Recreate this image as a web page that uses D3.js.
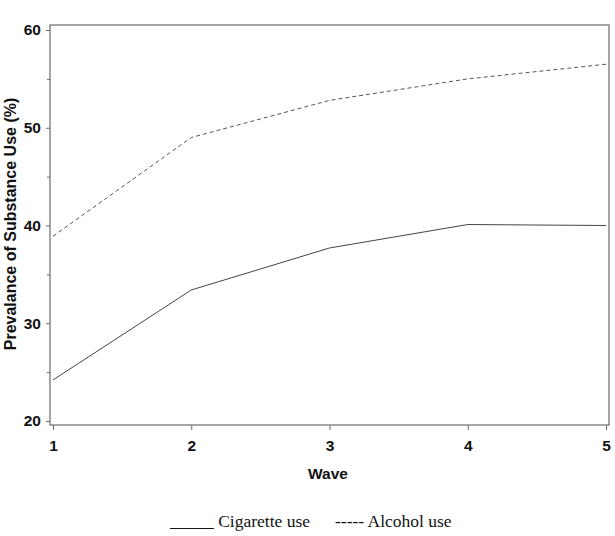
<!DOCTYPE html>
<html>
<head>
<meta charset="utf-8">
<script src="https://d3js.org/d3.v7.min.js"></script>
<style>
  body { margin: 0; background: #fff; }
</style>
</head>
<body>
<div id="chart"></div>
<script>
// data
var waves = [1, 2, 3, 4, 5];
var cigarette = [24.2, 33.4, 37.7, 40.1, 40.0];
var alcohol = [38.9, 49.0, 52.8, 55.0, 56.5];
var yTicks = [20, 30, 40, 50, 60];
var yMinor = [25, 35, 45, 55];

var width = 615, height = 536;
var svg = d3.select("#chart").append("svg")
  .attr("width", width)
  .attr("height", height);

// plot frame
var frame = {left: 50, top: 25, right: 609, bottom: 425};

var x = d3.scaleLinear().domain([1, 5]).range([53, 606]);
var y = d3.scaleLinear().domain([20, 60]).range([421, 30]);

svg.append("rect")
  .attr("x", frame.left).attr("y", frame.top)
  .attr("width", frame.right - frame.left)
  .attr("height", frame.bottom - frame.top)
  .attr("fill", "none")
  .attr("stroke", "#6b6b6b")
  .attr("stroke-width", 1.2);

// y axis
var yAxis = svg.append("g")
  .attr("transform", "translate(" + frame.left + ",0)")
  .call(d3.axisLeft(y).tickValues(yTicks).tickSize(4).tickPadding(5));
yAxis.select(".domain").remove();
yAxis.selectAll("line").attr("stroke", "#6b6b6b");
yAxis.selectAll("text")
  .attr("font-family", "Liberation Sans, Arial, sans-serif")
  .attr("font-weight", "bold")
  .attr("font-size", 15.5)
  .attr("fill", "#111");

var yMinorAxis = svg.append("g")
  .attr("transform", "translate(" + frame.left + ",0)")
  .call(d3.axisLeft(y).tickValues(yMinor).tickSize(3).tickFormat(""));
yMinorAxis.select(".domain").remove();
yMinorAxis.selectAll("line").attr("stroke", "#6b6b6b");

// x axis
var xAxis = svg.append("g")
  .attr("transform", "translate(0," + frame.bottom + ")")
  .call(d3.axisBottom(x).tickValues(waves).tickFormat(d3.format("d")).tickSize(5).tickPadding(10));
xAxis.select(".domain").remove();
xAxis.selectAll("line").attr("stroke", "#6b6b6b");
xAxis.selectAll("text")
  .attr("font-family", "Liberation Sans, Arial, sans-serif")
  .attr("font-weight", "bold")
  .attr("font-size", 15.5)
  .attr("fill", "#111");

// axis titles
svg.append("text")
  .attr("x", 328).attr("y", 479)
  .attr("text-anchor", "middle")
  .attr("font-family", "Liberation Sans, Arial, sans-serif")
  .attr("font-weight", "bold")
  .attr("font-size", 15.5)
  .attr("fill", "#111")
  .text("Wave");

svg.append("text")
  .attr("transform", "translate(16,224) rotate(-90)")
  .attr("text-anchor", "middle")
  .attr("font-family", "Liberation Sans, Arial, sans-serif")
  .attr("font-weight", "bold")
  .attr("font-size", 16)
  .attr("fill", "#111")
  .text("Prevalance of Substance Use (%)");

// lines
var line = d3.line()
  .x(function (d, i) { return x(waves[i]); })
  .y(function (d) { return y(d); });

svg.append("path")
  .datum(cigarette)
  .attr("fill", "none")
  .attr("stroke", "#444")
  .attr("stroke-width", 1)
  .attr("d", line);

svg.append("path")
  .datum(alcohol)
  .attr("fill", "none")
  .attr("stroke", "#555")
  .attr("stroke-width", 1)
  .attr("stroke-dasharray", "4,3")
  .attr("d", line);

// legend (plain text as in the original)
var legend = svg.append("g")
  .attr("font-family", "Liberation Serif, Times New Roman, serif")
  .attr("font-size", 17.5)
  .attr("fill", "#111");
legend.append("text").attr("x", 170).attr("y", 527).text("_____ Cigarette use");
legend.append("text").attr("x", 335).attr("y", 527).text("----- Alcohol use");
</script>
</body>
</html>
